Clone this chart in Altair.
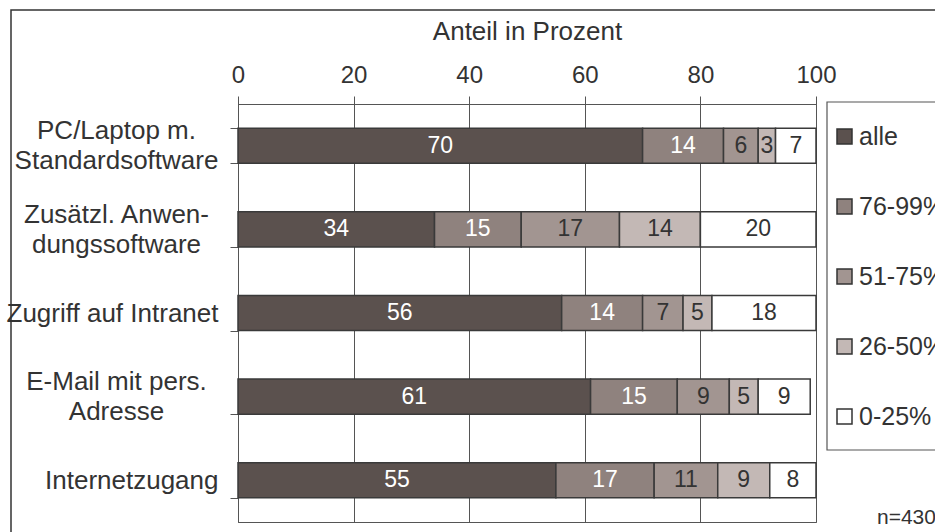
import altair as alt
import pandas as pd

categories = [
    "PC/Laptop m.|Standardsoftware",
    "Zusätzl. Anwen-|dungssoftware",
    "Zugriff auf Intranet",
    "E-Mail mit pers.|Adresse",
    "Internetzugang",
]
groups = ["alle", "76-99%", "51-75%", "26-50%", "0-25%"]
alle = [70, 34, 56, 61, 55]
p76_99 = [14, 15, 14, 15, 17]
p51_75 = [6, 17, 7, 9, 11]
p26_50 = [3, 14, 5, 5, 9]
p0_25 = [7, 20, 18, 9, 8]
colors = ["#5b514e", "#8f827e", "#a29591", "#c3b8b5", "#ffffff"]
x_ticks = [0, 20, 40, 60, 80, 100]

rows = []
for gi, (g, vals) in enumerate(zip(groups, [alle, p76_99, p51_75, p26_50, p0_25])):
    for c, v in zip(categories, vals):
        rows.append({"cat": c, "group": g, "value": v, "order": gi})
df = pd.DataFrame(rows)

FONT = "Liberation Sans"
GREY = "#555555"
MULTI = "indexof(datum.label, '|') >= 0"

x_axis = alt.Axis(
    orient="top", values=x_ticks, title="Anteil in Prozent",
    labelFontSize=24, titleFontSize=26, labelColor="#333333", titleColor="#333333",
    titleFontWeight="normal", tickSize=8, labelPadding=9, titlePadding=19,
    domainColor=GREY, tickColor=GREY, gridColor=GREY, grid=True, labelFlush=False,
)
y_enc = alt.Y(
    "cat:N", sort=categories,
    scale=alt.Scale(paddingInner=0.58, paddingOuter=0.29),
    axis=alt.Axis(
        title=None, labelExpr="split(datum.label, '|')",
        labelAlign={"condition": {"test": MULTI, "value": "center"}, "value": "right"},
        labelPadding={"condition": {"test": MULTI, "value": 114}, "value": 12},
        labelOffset={"condition": {"test": MULTI, "value": -15}, "value": 0},
        labelBaseline="middle", tickSize=8, tickBand="extent",
        labelFontSize=26, labelLineHeight=30, labelColor="#333333",
        domainColor=GREY, tickColor=GREY, grid=False, labelLimit=400,
    ),
)

base = alt.Chart(df).transform_stack(
    stack="value", as_=["x0", "x1"], groupby=["cat"],
    sort=[alt.SortField("order", order="ascending")],
).transform_calculate(mid="(datum.x0 + datum.x1) / 2")

bars = base.mark_bar(stroke="#3a3a3a", strokeWidth=1.5).encode(
    x=alt.X("x0:Q", scale=alt.Scale(domain=[0, 100]), axis=x_axis),
    x2="x1:Q",
    y=y_enc,
    color=alt.Color(
        "group:N", sort=groups, scale=alt.Scale(domain=groups, range=colors),
        legend=alt.Legend(
            orient="none", legendX=594, legendY=20, title=None,
            symbolType="square", symbolSize=225, symbolStrokeColor="#333333",
            symbolStrokeWidth=1.5, labelFontSize=25, labelOffset=2,
            rowPadding=44, padding=0, labelColor="#333333", labelLimit=300,
        ),
    ),
    order=alt.Order("order:Q"),
)

labels = base.mark_text(fontSize=23, baseline="middle", align="center").encode(
    x=alt.X("mid:Q", scale=alt.Scale(domain=[0, 100]), axis=x_axis),
    y=y_enc,
    text="value:Q",
    color=alt.condition("datum.order < 2", alt.value("white"), alt.value("#333333")),
)

one = pd.DataFrame({"d": [0]})
frame = alt.Chart(one).mark_rect(fill="transparent", stroke="#333333", strokeWidth=1.5).encode(
    x=alt.value(-227), x2=alt.value(800), y=alt.value(-94), y2=alt.value(600)
)
legend_box = alt.Chart(one).mark_rect(fill="transparent", stroke=GREY, strokeWidth=1.2).encode(
    x=alt.value(589), x2=alt.value(800), y=alt.value(-2), y2=alt.value(346)
)
note = alt.Chart(one).mark_text(align="left", baseline="alphabetic", fontSize=21, color="#333333").encode(
    x=alt.value(639), y=alt.value(420), text=alt.value("n=430")
)

chart = alt.layer(frame, legend_box, bars, labels, note).properties(
    width=578, height=418,
    autosize=alt.AutoSizeParams(type="none"),
    padding={"left": 238, "top": 104, "right": 119, "bottom": 10},
).configure(font=FONT).configure_view(stroke=GREY, strokeWidth=1)

chart.save("out.html", embed_options={"renderer": "svg", "actions": False})
